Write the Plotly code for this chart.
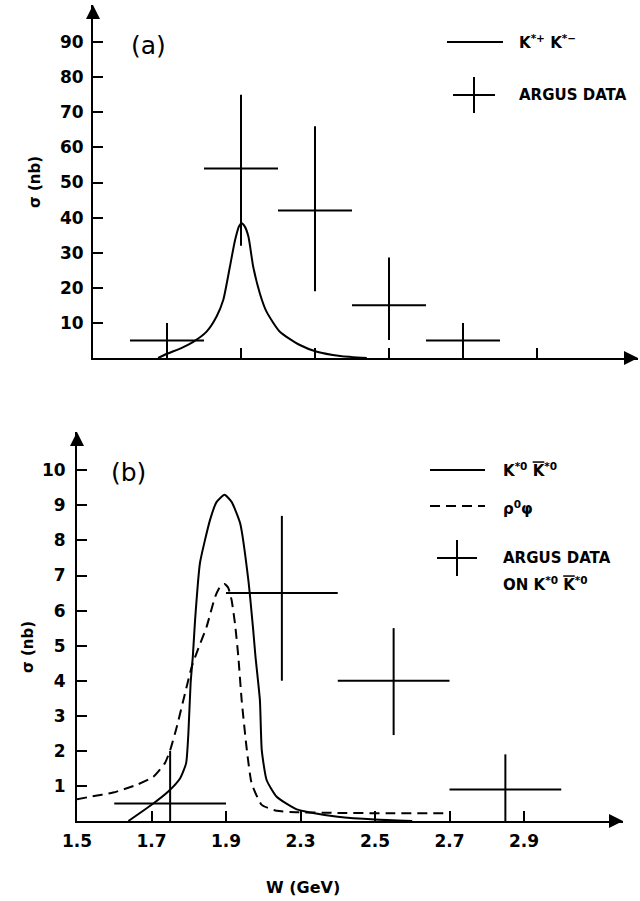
import plotly.graph_objects as go

W, H = 640, 901

# ---------------- data : panel (a) ----------------
curve_a_x = [1.676, 1.700, 1.740, 1.771, 1.807, 1.834, 1.852, 1.870, 1.884, 1.895,
             1.902, 1.910, 1.920, 1.933, 1.951, 1.969, 2.005, 2.059, 2.105, 2.168, 2.240]
curve_a_y = [0.0, 1.2, 2.9, 4.6, 7.5, 11.8, 16.5, 26.0, 33.6, 37.6,
             38.4, 37.5, 34.6, 26.0, 18.4, 13.2, 7.5, 3.7, 1.8, 0.6, 0.0]

argus_a_x = [1.7, 1.9, 2.1, 2.3, 2.5]
argus_a_y = [5, 54, 42, 15, 5]
argus_a_xerr = [0.1, 0.1, 0.1, 0.1, 0.1]
argus_a_yerr_plus = [5, 21, 24, 13.6, 5]
argus_a_yerr_minus = [5, 22, 23, 9.9, 5]

yticks_a = [10, 20, 30, 40, 50, 60, 70, 80, 90]
xticks_a = [1.7, 1.9, 2.1, 2.3, 2.5, 2.7]

# ---------------- data : panel (b) ----------------
curve_kk_x = [1.638, 1.705, 1.745, 1.777, 1.793, 1.799, 1.805, 1.811, 1.817, 1.830,
              1.857, 1.875, 1.896, 1.915, 1.938, 1.960, 1.973, 1.979, 1.991, 1.996,
              2.009, 2.036, 2.090, 2.126, 2.200, 2.300, 2.400]
curve_kk_y = [0.0, 0.5, 0.84, 1.22, 1.65, 2.5, 3.93, 4.7, 5.73, 7.35,
              8.58, 9.1, 9.30, 9.1, 8.49, 6.87, 5.45, 4.7, 3.45, 2.02,
              1.17, 0.69, 0.33, 0.24, 0.12, 0.04, 0.0]

curve_rho_x = [1.500, 1.535, 1.597, 1.660, 1.705, 1.736, 1.750, 1.768, 1.790, 1.808,
               1.826, 1.848, 1.871, 1.885, 1.896, 1.906, 1.915, 1.924, 1.933, 1.942,
               1.956, 1.969, 1.996, 2.036, 2.090, 2.200, 2.350, 2.500]
curve_rho_y = [0.62, 0.69, 0.81, 1.03, 1.26, 1.65, 2.02, 2.69, 3.64, 4.4,
               4.93, 5.54, 6.4, 6.7, 6.76, 6.65, 6.30, 5.64, 4.7, 3.45,
               2.02, 1.07, 0.46, 0.29, 0.25, 0.23, 0.22, 0.22]

argus_b_x = [1.75, 2.05, 2.35, 2.65]
argus_b_y = [0.5, 6.5, 4.0, 0.9]
argus_b_xerr = [0.15, 0.15, 0.15, 0.15]
argus_b_yerr_plus = [1.5, 2.2, 1.5, 1.0]
argus_b_yerr_minus = [0.5, 2.5, 1.55, 0.9]

yticks_b = [1, 2, 3, 4, 5, 6, 7, 8, 9, 10]
xtickvals_b = [1.5, 1.7, 1.9, 2.1, 2.3, 2.5, 2.7]
xticktext_b = ["1.5", "1.7", "1.9", "2.3", "2.5", "2.7", "2.9"]

# ---------------- helpers ----------------
def px(x):
    return x / W

def py(y):
    return 1 - y / H

FONT = "DejaVu Sans"
tickfont = dict(family=FONT, size=17, color="black", weight="bold")

fig = go.Figure()

# panel (a)
fig.add_trace(go.Scatter(x=curve_a_x, y=curve_a_y, mode="lines",
                         line=dict(color="black", width=2, shape="spline", smoothing=0.6),
                         xaxis="x", yaxis="y", showlegend=False, hoverinfo="skip"))
fig.add_trace(go.Scatter(x=argus_a_x, y=argus_a_y, mode="markers",
                         marker=dict(size=1, color="black"),
                         error_x=dict(type="data", array=argus_a_xerr, width=0, thickness=2, color="black"),
                         error_y=dict(type="data", array=argus_a_yerr_plus, arrayminus=argus_a_yerr_minus,
                                      symmetric=False, width=0, thickness=2, color="black"),
                         xaxis="x", yaxis="y", showlegend=False))

# panel (b)
fig.add_trace(go.Scatter(x=curve_kk_x, y=curve_kk_y, mode="lines",
                         line=dict(color="black", width=2, shape="spline", smoothing=0.5),
                         xaxis="x2", yaxis="y2", showlegend=False, hoverinfo="skip"))
fig.add_trace(go.Scatter(x=curve_rho_x, y=curve_rho_y, mode="lines",
                         line=dict(color="black", width=2, shape="spline", smoothing=0.5, dash="10px,6px"),
                         xaxis="x2", yaxis="y2", showlegend=False, hoverinfo="skip"))
fig.add_trace(go.Scatter(x=argus_b_x, y=argus_b_y, mode="markers",
                         marker=dict(size=1, color="black"),
                         error_x=dict(type="data", array=argus_b_xerr, width=0, thickness=2, color="black"),
                         error_y=dict(type="data", array=argus_b_yerr_plus, arrayminus=argus_b_yerr_minus,
                                      symmetric=False, width=0, thickness=2, color="black"),
                         xaxis="x2", yaxis="y2", showlegend=False))

# axis geometry (pixels of the reference)
xa_range = [1.5, 1.5 + (638 - 93) * 0.2 / 74.0]
ya_range = [0, (358 - 5) / 3.51]
xb_range = [1.5, 1.5 + (623 - 77) * 0.2 / 74.5]
yb_range = [0, (821 - 432) / 35.07]

axis_common = dict(showline=True, linecolor="black", linewidth=2, showgrid=False,
                   zeroline=False, ticks="inside", tickwidth=2, tickcolor="black",
                   ticklen=10, tickfont=tickfont, automargin=False)

fig.update_layout(
    template="none",
    width=W, height=H, margin=dict(l=0, r=0, t=0, b=0, pad=0, autoexpand=False),
    paper_bgcolor="white", plot_bgcolor="white", showlegend=False,
    xaxis=dict(domain=[px(93), px(638)], range=xa_range, anchor="y",
               tickvals=xticks_a, showticklabels=False, **axis_common),
    yaxis=dict(domain=[py(358), py(5)], range=ya_range, anchor="x",
               tickvals=yticks_a, ticklabelstandoff=4, **axis_common),
    xaxis2=dict(domain=[px(77), px(623)], range=xb_range, anchor="y2",
                tickvals=xtickvals_b, ticktext=xticktext_b, ticklabelstandoff=4, **axis_common),
    yaxis2=dict(domain=[py(821), py(432)], range=yb_range, anchor="x2",
                tickvals=yticks_b, ticklabelstandoff=6, **axis_common),
)

annotations = []
shapes = []

# arrow heads on axes
def arrow(xref, yref, x, y, ax, ay):
    annotations.append(dict(x=x, y=y, xref=xref, yref=yref, ax=ax, ay=ay, axref="pixel",
                            ayref="pixel", text="", showarrow=True, arrowhead=2,
                            arrowsize=1.4, arrowwidth=2, arrowcolor="black", standoff=0))

arrow("x", "y", xa_range[1], 0, -14, 0)
arrow("x", "y", 1.5, ya_range[1], 0, 14)
arrow("x2", "y2", xb_range[1], 0, -14, 0)
arrow("x2", "y2", 1.5, yb_range[1], 0, 14)

def text(x, y, t, size=16, weight="bold", xanchor="left", angle=0):
    annotations.append(dict(x=px(x), y=py(y), xref="paper", yref="paper", text=t,
                            showarrow=False, xanchor=xanchor, yanchor="middle",
                            textangle=angle, borderpad=0,
                            font=dict(family=FONT, size=size, color="black", weight=weight)))

def seg(x0, y0, x1, y1, dash="solid"):
    shapes.append(dict(type="line", xref="paper", yref="paper",
                       x0=px(x0), y0=py(y0), x1=px(x1), y1=py(y1),
                       line=dict(color="black", width=2, dash=dash)))

KBAR = '<span style="text-decoration:overline">K</span>'

# panel labels
text(148, 45, "(a)", size=25, weight="normal", xanchor="center")
text(128, 473, "(b)", size=25, weight="normal", xanchor="center")
text(35, 182, "σ (nb)", size=15, xanchor="center", angle=-90)
text(28, 647, "σ (nb)", size=15, xanchor="center", angle=-90)
text(303, 887, "W (GeV)", size=16, xanchor="center")

# legend (a)
seg(447, 42, 503, 42)
text(518, 42, "K<sup>*+</sup> K<sup>*−</sup>", size=15)
seg(453, 95, 495, 95)
seg(474, 77, 474, 113)
text(518, 95, "ARGUS DATA", size=15)

# legend (b)
seg(430, 470, 485, 470)
text(502, 470, "K<sup>*0</sup> " + KBAR + "<sup>*0</sup>", size=15)
seg(430, 506, 485, 506, dash="10px,6px")
text(502, 508, "ρ<sup>0</sup>φ", size=15)
seg(437, 558, 477, 558)
seg(457, 540, 457, 576)
text(502, 558, "ARGUS DATA", size=15)
text(502, 584, "ON K<sup>*0</sup> " + KBAR + "<sup>*0</sup>", size=15)

fig.update_layout(annotations=annotations, shapes=shapes)

fig.write_html("out.html",
               config={"displayModeBar": False},
               post_script="document.body.style.margin='0';document.body.style.overflow='hidden';")
